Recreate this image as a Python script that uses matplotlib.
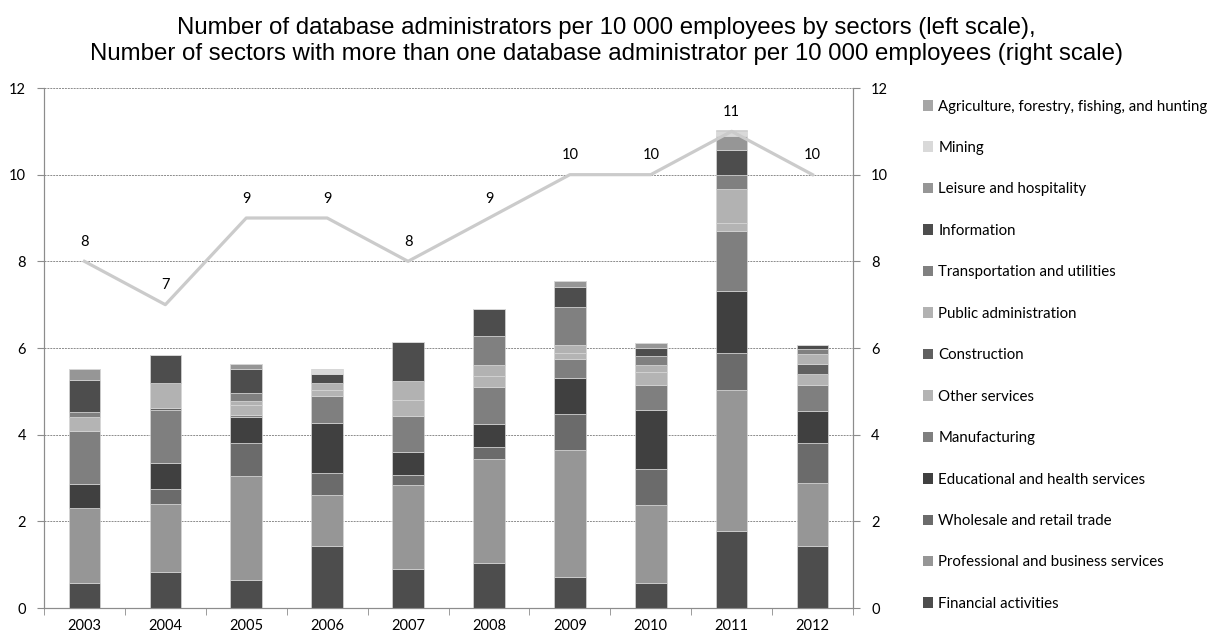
import matplotlib
matplotlib.use('Agg')
import matplotlib.pyplot as plt
from matplotlib.patches import Patch
import numpy as np

years = ['2003', '2004', '2005', '2006', '2007', '2008', '2009', '2010', '2011', '2012']

# Stack order, bottom to top
sectors = ['Financial activities', 'Professional and business services',
           'Wholesale and retail trade', 'Educational and health services',
           'Manufacturing', 'Other services', 'Construction',
           'Public administration', 'Transportation and utilities',
           'Information', 'Leisure and hospitality', 'Mining',
           'Agriculture, forestry, fishing, and hunting']

financial = [0.58, 0.82, 0.64, 1.44, 0.90, 1.03, 0.71, 0.58, 1.77, 1.44]
professional = [1.73, 1.59, 2.41, 1.17, 1.95, 2.42, 2.94, 1.80, 3.27, 1.45]
wholesale = [0.00, 0.34, 0.76, 0.51, 0.23, 0.27, 0.83, 0.83, 0.85, 0.92]
educational = [0.56, 0.59, 0.59, 1.16, 0.53, 0.53, 0.82, 1.35, 1.43, 0.73]
manufacturing = [1.21, 1.24, 0.06, 0.62, 0.82, 0.86, 0.44, 0.59, 1.39, 0.61]
other_services = [0.33, 0.00, 0.23, 0.13, 0.37, 0.24, 0.14, 0.29, 0.17, 0.26]
construction = [0.00, 0.04, 0.00, 0.00, 0.00, 0.00, 0.00, 0.00, 0.00, 0.23]
public_admin = [0.00, 0.57, 0.09, 0.17, 0.43, 0.26, 0.20, 0.16, 0.80, 0.22]
transportation = [0.12, 0.00, 0.18, 0.00, 0.00, 0.67, 0.86, 0.22, 0.32, 0.12]
information = [0.74, 0.64, 0.56, 0.21, 0.91, 0.63, 0.46, 0.19, 0.57, 0.10]
leisure = [0.25, 0.00, 0.10, 0.00, 0.00, 0.00, 0.14, 0.10, 0.33, 0.00]
mining = [0.00, 0.00, 0.00, 0.11, 0.00, 0.00, 0.00, 0.00, 0.10, 0.00]
agriculture = [0.00, 0.00, 0.00, 0.00, 0.00, 0.00, 0.00, 0.00, 0.02, 0.00]

# Right scale: sectors with more than one DBA per 10 000 employees
sector_count = [8, 7, 9, 9, 8, 9, 10, 10, 11, 10]

series = [financial, professional, wholesale, educational, manufacturing,
          other_services, construction, public_admin, transportation,
          information, leisure, mining, agriculture]
colors = ['#4d4d4d', '#969696', '#6b6b6b', '#404040', '#7f7f7f', '#b4b4b4',
          '#606060', '#b2b2b2', '#808080', '#4d4d4d', '#969696', '#d9d9d9',
          '#a6a6a6']

TICK_FONT = 'Lato'

fig = plt.figure(figsize=(12.12, 6.36), dpi=100)
ax = fig.add_axes([44 / 1212, 28 / 636, 809 / 1212, 520 / 636])
ax2 = ax.twinx()

x = np.arange(len(years))
bottom = np.zeros(len(years))
for vals, col in zip(series, colors):
    ax.bar(x, vals, 0.39, bottom=bottom, color=col, edgecolor='#d6d6d6',
           linewidth=0.5, zorder=3)
    bottom += np.array(vals)

ax.set_xlim(-0.5, len(years) - 0.5)
ax.set_ylim(0, 12)
ax.set_yticks(range(0, 13, 2))
ax.yaxis.grid(True, linestyle=(0, (2, 1)), color='#8c8c8c', linewidth=0.7)
ax.set_axisbelow(True)
ax.set_xticks(x)
ax.set_xticklabels(years, fontsize=10.5, family=TICK_FONT)
ax.set_xticks(np.arange(-0.5, len(years), 1), minor=True)
ax.tick_params(axis='x', which='major', length=0, pad=8)
ax.tick_params(axis='x', which='minor', length=5, color='#8c8c8c', direction='out')
ax.tick_params(axis='y', length=5, color='#8c8c8c', labelsize=10.5, pad=8)
for lab in ax.get_yticklabels():
    lab.set_family(TICK_FONT)

ax2.plot(x, sector_count, color='#cbcbcb', linewidth=2.3, zorder=4)
for xi, v in zip(x, sector_count):
    ax2.annotate(str(v), (xi, v), xytext=(0, 9), textcoords='offset points',
                 ha='center', va='bottom', fontsize=10.5, family=TICK_FONT)
ax2.set_ylim(0, 12)
ax2.set_yticks(range(0, 13, 2))
ax2.tick_params(axis='y', length=5, color='#8c8c8c', labelsize=10.5, pad=8)
for lab in ax2.get_yticklabels():
    lab.set_family(TICK_FONT)

for a in (ax, ax2):
    a.spines['top'].set_visible(False)
    for s in ('left', 'right', 'bottom'):
        a.spines[s].set_color('#8c8c8c')

fig.text(0.5, 1 - 41 / 636,
         'Number of database administrators per 10 000 employees by sectors (left scale),\n'
         'Number of sectors with more than one database administrator per 10 000 employees (right scale)',
         ha='center', va='center', fontsize=17.3, family='Liberation Sans',
         linespacing=1.18)

handles = [Patch(facecolor=c, edgecolor='none') for c in colors][::-1]
fig.legend(handles, sectors[::-1], loc='upper left',
           bbox_to_anchor=(909 / 1212, 1 - 86 / 636), frameon=False,
           prop={'family': TICK_FONT, 'size': 10.8}, labelspacing=1.83,
           handlelength=0.7, handleheight=0.7, handletextpad=0.35)

fig.savefig('out.png', dpi=100)
